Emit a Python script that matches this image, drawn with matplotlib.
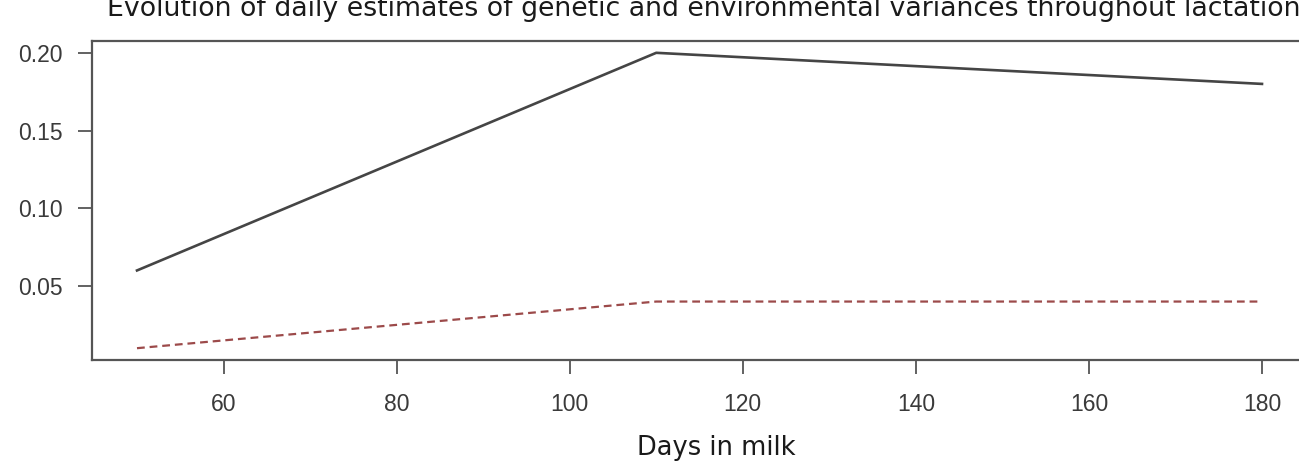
import matplotlib
matplotlib.use("Agg")
import matplotlib.pyplot as plt

# data
days = [50, 110, 180]
env_var = [0.06, 0.20, 0.18]
gen_var = [0.01, 0.04, 0.04]
x_ticks = [60, 80, 100, 120, 140, 160, 180]
y_ticks = [0.05, 0.10, 0.15, 0.20]

W, H = 1299, 466
fig = plt.figure(figsize=(W / 100, H / 100), dpi=100)

# axes box: left 92px, right ~1307px (cropped), top 41px, bottom 360px
ax = fig.add_axes([92 / W, (H - 360) / H, (1307 - 92) / W, (360 - 41) / H])

ax.plot(days, env_var, color="#454545", lw=1.9, solid_joinstyle="round")
ax.plot(days, gen_var, color="#9c4a4a", lw=1.6, dashes=(3.5, 2.2))

# R style 4% padding
ax.set_xlim(44.8, 185.2)
ax.set_ylim(0.0024, 0.2076)
ax.set_xticks(x_ticks)
ax.set_yticks(y_ticks)
ax.set_xticklabels([str(v) for v in x_ticks])
ax.set_yticklabels([f"{v:.2f}" for v in y_ticks])

for s in ax.spines.values():
    s.set_color("#555555")
    s.set_linewidth(1.6)

ax.tick_params(axis="both", length=10, width=1.3, color="#555555",
               labelcolor="#3a3a3a", labelsize=16.5)
ax.tick_params(axis="x", pad=14)
ax.tick_params(axis="y", pad=11)
for lab in ax.get_xticklabels() + ax.get_yticklabels():
    lab.set_family("Liberation Sans")

fig.text(107 / W, 1 - 16 / H,
         "Evolution of daily estimates of genetic and environmental variances throughout lactation",
         ha="left", va="baseline", fontsize=19.3, color="#1a1a1a", family="DejaVu Sans")
fig.text(716 / W, 1 - 455 / H, "Days in milk", ha="center", va="baseline",
         fontsize=18.5, color="#1a1a1a", family="DejaVu Sans")

fig.savefig("out.png", dpi=100)
